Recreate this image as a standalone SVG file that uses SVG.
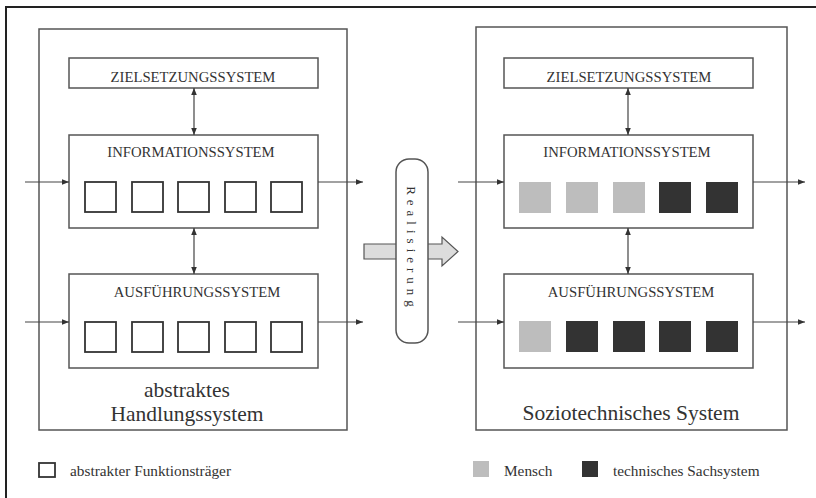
<svg xmlns="http://www.w3.org/2000/svg" width="816" height="498" viewBox="0 0 816 498">
<defs>
<style>
.box{fill:#fff;stroke:#555;stroke-width:1.5}
.fr{fill:none;stroke:#222;stroke-width:2}
.sq{fill:#fff;stroke:#333;stroke-width:1.8}
.lt{fill:#bdbdbd;stroke:none}
.dk{fill:#333;stroke:none}
.t{font-family:"Liberation Serif","DejaVu Serif",serif;fill:#333;text-anchor:middle}
.cap{font-size:14.7px}
.big{font-size:21.5px}
.leg{font-size:15.3px;text-anchor:start}
.c{stroke:#444;stroke-width:1.2;fill:none}
</style>
<marker id="ah" viewBox="0 0 10 10" refX="10" refY="5" markerWidth="7" markerHeight="7" markerUnits="userSpaceOnUse" orient="auto-start-reverse">
<path d="M0,1 L10,5 L0,9 z" fill="#333"/>
</marker>
</defs>
<rect width="816" height="498" fill="#fff"/>
<g id="frame">
<line class="fr" x1="6" y1="6" x2="6" y2="498"/>
<line class="fr" x1="5" y1="7" x2="816" y2="7"/>
</g>

<g id="left-system">
<rect class="box" x="39" y="29" width="308" height="401"/>
<text class="t big" x="187" y="397">abstraktes</text>
<text class="t big" x="187" y="421">Handlungssystem</text>
</g>
<g id="left-ziel">
<rect class="box" x="69" y="58" width="249" height="30"/>
<text class="t cap" x="193" y="82">ZIELSETZUNGSSYSTEM</text>
</g>
<g id="left-info">
<rect class="box" x="69" y="135" width="249" height="93"/>
<text class="t cap" x="191" y="157">INFORMATIONSSYSTEM</text>
<rect class="sq" x="85" y="182" width="31" height="30"/>
<rect class="sq" x="132" y="182" width="31" height="30"/>
<rect class="sq" x="178" y="182" width="31" height="30"/>
<rect class="sq" x="225" y="182" width="31" height="30"/>
<rect class="sq" x="271" y="182" width="31" height="30"/>
</g>
<g id="left-ausf">
<rect class="box" x="69" y="274" width="249" height="94"/>
<text class="t cap" x="197" y="297">AUSFÜHRUNGSSYSTEM</text>
<rect class="sq" x="85" y="322" width="31" height="30"/>
<rect class="sq" x="132" y="322" width="31" height="30"/>
<rect class="sq" x="178" y="322" width="31" height="30"/>
<rect class="sq" x="225" y="322" width="31" height="30"/>
<rect class="sq" x="271" y="322" width="31" height="30"/>
</g>

<g id="right-system">
<rect class="box" x="476" y="27" width="311" height="403"/>
<text class="t big" x="631" y="420">Soziotechnisches System</text>
</g>
<g id="right-ziel">
<rect class="box" x="504" y="58" width="249" height="30"/>
<text class="t cap" x="629" y="82">ZIELSETZUNGSSYSTEM</text>
</g>
<g id="right-info">
<rect class="box" x="504" y="135" width="249" height="93"/>
<text class="t cap" x="627" y="157">INFORMATIONSSYSTEM</text>
<rect class="lt" x="519" y="182" width="32" height="31"/>
<rect class="lt" x="566" y="182" width="32" height="31"/>
<rect class="lt" x="613" y="182" width="32" height="31"/>
<rect class="dk" x="659" y="182" width="32" height="31"/>
<rect class="dk" x="706" y="182" width="32" height="31"/>
</g>
<g id="right-ausf">
<rect class="box" x="504" y="274" width="249" height="94"/>
<text class="t cap" x="631" y="297">AUSFÜHRUNGSSYSTEM</text>
<rect class="lt" x="519" y="321" width="32" height="31"/>
<rect class="dk" x="566" y="321" width="32" height="31"/>
<rect class="dk" x="613" y="321" width="32" height="31"/>
<rect class="dk" x="659" y="321" width="32" height="31"/>
<rect class="dk" x="706" y="321" width="32" height="31"/>
</g>

<g id="realisierung">
<path d="M364,244 H442 V237 L458,251.5 L442,266 V259 H364 Z" fill="#dcdcdc" stroke="#555" stroke-width="1.2"/>
<rect x="396" y="159" width="32" height="184" rx="13" ry="13" fill="#fff" stroke="#555" stroke-width="1.5"/>
<text class="t" font-size="13" letter-spacing="5" transform="translate(407,249) rotate(90)">Realisierung</text>
</g>

<g id="connectors">
<line class="c" x1="194" y1="88" x2="194" y2="135" marker-start="url(#ah)" marker-end="url(#ah)"/>
<line class="c" x1="194" y1="228" x2="194" y2="274" marker-start="url(#ah)" marker-end="url(#ah)"/>
<line class="c" x1="25" y1="182" x2="69" y2="182" marker-end="url(#ah)"/>
<line class="c" x1="318" y1="182" x2="363" y2="182" marker-end="url(#ah)"/>
<line class="c" x1="25" y1="322" x2="69" y2="322" marker-end="url(#ah)"/>
<line class="c" x1="318" y1="322" x2="363" y2="322" marker-end="url(#ah)"/>
<line class="c" x1="628" y1="88" x2="628" y2="135" marker-start="url(#ah)" marker-end="url(#ah)"/>
<line class="c" x1="628" y1="228" x2="628" y2="274" marker-start="url(#ah)" marker-end="url(#ah)"/>
<line class="c" x1="458" y1="182" x2="504" y2="182" marker-end="url(#ah)"/>
<line class="c" x1="753" y1="182" x2="805" y2="182" marker-end="url(#ah)"/>
<line class="c" x1="458" y1="322" x2="504" y2="322" marker-end="url(#ah)"/>
<line class="c" x1="753" y1="322" x2="805" y2="322" marker-end="url(#ah)"/>
</g>

<g id="legend">
<rect class="sq" x="39" y="463" width="16" height="14"/>
<text class="t leg" x="70" y="476">abstrakter Funktionsträger</text>
<rect class="lt" x="473" y="461" width="16" height="16"/>
<text class="t leg" x="504" y="476">Mensch</text>
<rect class="dk" x="582" y="461" width="16" height="16"/>
<text class="t leg" x="613" y="476">technisches Sachsystem</text>
</g>
</svg>
